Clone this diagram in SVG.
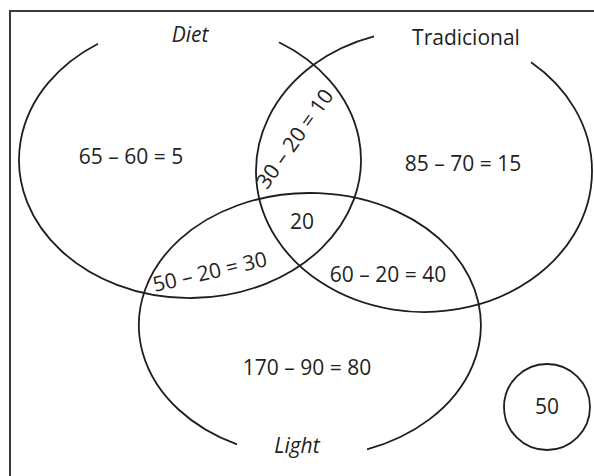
<svg xmlns="http://www.w3.org/2000/svg" width="594" height="476" viewBox="0 0 594 476">
<style>
.c{fill:none;stroke:#1e1e1e;stroke-width:1.8}
.f{fill:none;stroke:#3a3a3a;stroke-width:2}
text{font-family:"Open Sans","Liberation Sans",sans-serif;font-size:20px;fill:#231f20;text-anchor:middle}
.i{font-style:italic;font-size:21px}
.n{font-size:21px}
</style>
<rect width="594" height="476" fill="#fff"/>
<path class="f" d="M10,480 V11 H600"/>
<g id="diet">
<path class="c" d="M279,42.2 A171,138 0 1 1 98,43.7"/>
<text class="i" x="190" y="42">Diet</text>
</g>
<g id="tradicional">
<path class="c" d="M531,62.3 A168,141 0 1 1 374,36.4"/>
<text x="466" y="45" style="font-size:21px">Tradicional</text>
</g>
<g id="light">
<path class="c" d="M237,444.4 A171,132 0 1 1 367,449.4"/>
<text class="i" x="297" y="453">Light</text>
</g>
<g id="none">
<circle class="c" cx="547" cy="407" r="43"/>
<text class="n" x="547" y="414">50</text>
</g>
<g id="labels">
<text class="n" x="131" y="164">65 – 60 = 5</text>
<text class="n" x="463" y="171">85 – 70 = 15</text>
<text class="n" x="302" y="229">20</text>
<text class="n" x="388" y="282">60 – 20 = 40</text>
<text class="n" x="307" y="375">170 – 90 = 80</text>
<text class="n" transform="translate(300.7,143) rotate(-54.5)">30 – 20 = 10</text>
<text class="n" transform="translate(211.5,279) rotate(-13)">50 – 20 = 30</text>
</g>
</svg>
